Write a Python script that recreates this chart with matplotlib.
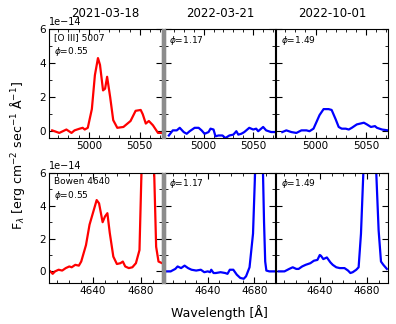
import numpy as np
import matplotlib.pyplot as plt
from matplotlib.ticker import AutoMinorLocator, MultipleLocator

dates = ["2021-03-18", "2022-03-21", "2022-10-01"]
phases = ["0.55", "1.17", "1.49"]

# [O III] 5007 region, flux in 1e-14
oiii_w1 = [4964, 4971, 4978, 4983, 4986, 4991, 4994, 4996, 4999, 5003, 5006, 5009, 5011,
           5014, 5016, 5018, 5021, 5024, 5028, 5034, 5041, 5046, 5051, 5053, 5056, 5059,
           5063, 5068, 5071]
oiii_f1 = [0.05, -0.1, 0.1, -0.1, 0.05, 0.15, 0.2, 0.1, 0.2, 1.3, 3.3, 4.3, 3.9,
           2.4, 2.5, 3.2, 2.0, 0.65, 0.2, 0.25, 0.6, 1.2, 1.25, 1.0, 0.45, 0.6,
           0.35, -0.1, -0.1]
oiii_w2 = [4965, 4969, 4973, 4976, 4980, 4983, 4986, 4991, 4995, 4998, 5001, 5005, 5007,
           5010, 5012, 5015, 5019, 5022, 5026, 5030, 5033, 5035, 5038, 5041, 5046, 5050,
           5053, 5055, 5060, 5063, 5068, 5072]
oiii_f2 = [-0.25, 0.05, 0.05, 0.2, -0.05, -0.15, 0.0, 0.2, 0.2, 0.05, -0.15, -0.05, 0.15,
           0.1, -0.3, -0.25, -0.25, -0.4, -0.25, -0.2, 0.0, -0.2, -0.15, -0.05, 0.2, 0.1,
           0.15, 0.0, 0.25, 0.05, -0.05, -0.05]
oiii_w3 = [4967, 4971, 4976, 4981, 4986, 4991, 4994, 4998, 5001, 5004, 5008, 5013, 5016,
           5020, 5023, 5026, 5030, 5033, 5036, 5041, 5048, 5051, 5055, 5059, 5061, 5066, 5072]
oiii_f3 = [-0.05, 0.05, -0.05, -0.1, 0.05, 0.05, 0.0, 0.15, 0.55, 0.95, 1.3, 1.3, 1.25,
           0.7, 0.25, 0.15, 0.15, 0.1, 0.2, 0.4, 0.5, 0.4, 0.25, 0.3, 0.2, 0.1, 0.05]

# Bowen 4640 region, flux in 1e-14
bow_w1 = [4604, 4606, 4608, 4611, 4614, 4617, 4620, 4622, 4625, 4628, 4630, 4634, 4637,
          4641, 4643, 4645, 4648, 4650, 4652, 4654, 4657, 4660, 4663, 4665, 4667, 4670,
          4673, 4676, 4679, 4681, 4683, 4686, 4689, 4691, 4693, 4695, 4698]
bow_f1 = [0.0, -0.15, 0.0, 0.1, 0.05, 0.2, 0.3, 0.25, 0.4, 0.35, 0.6, 1.6, 2.85,
          3.85, 4.35, 4.15, 3.0, 3.35, 3.55, 2.35, 0.9, 0.45, 0.5, 0.6, 0.3, 0.2,
          0.25, 0.5, 1.3, 7.0, 14.0, 16.0, 14.0, 7.0, 1.5, 0.6, 0.5]
bow_w2 = [4604, 4608, 4612, 4614, 4617, 4620, 4623, 4626, 4630, 4634, 4637, 4640, 4642,
          4643, 4645, 4647, 4651, 4655, 4657, 4659, 4662, 4665, 4668, 4671, 4673, 4676,
          4679, 4681, 4683, 4685, 4687, 4688.5, 4689.5, 4690.5, 4693, 4698]
bow_f2 = [0.0, 0.0, 0.15, 0.3, 0.2, 0.35, 0.2, 0.1, 0.05, 0.1, -0.05, 0.0, -0.05,
          0.1, -0.1, -0.1, -0.05, -0.1, -0.15, 0.1, 0.1, -0.2, -0.4, -0.45, -0.3, 0.25,
          2.3, 6.5, 10.0, 11.0, 8.0, 3.0, 0.6, 0.05, 0.0, 0.0]
bow_w3 = [4605, 4610, 4614, 4617, 4620, 4622, 4625, 4628, 4632, 4635, 4638, 4640, 4641,
          4643, 4646, 4649, 4651, 4654, 4657, 4661, 4664, 4666, 4668, 4671, 4673, 4675,
          4677, 4680, 4683, 4686, 4688, 4690, 4692, 4694, 4697]
bow_f3 = [0.0, 0.0, 0.15, 0.25, 0.15, 0.15, 0.3, 0.4, 0.5, 0.65, 0.7, 1.0, 0.95,
          0.75, 0.85, 0.55, 0.4, 0.25, 0.2, 0.2, 0.05, -0.1, -0.05, 0.1, 0.25, 2.3,
          6.0, 10.0, 11.0, 9.0, 6.0, 2.5, 0.6, 0.4, 0.15]

top = [(oiii_w1, oiii_f1), (oiii_w2, oiii_f2), (oiii_w3, oiii_f3)]
bot = [(bow_w1, bow_f1), (bow_w2, bow_f2), (bow_w3, bow_f3)]
colors = ["red", "blue", "blue"]

fig = plt.figure(figsize=(3.96, 3.24), dpi=100)
left, width = 0.124, 0.2853
rows = [(0.574, 0.336), (0.127, 0.339)]
gaps = [0.0, 0.007, 0.003]

for r in range(2):
    axes = []
    for c in range(3):
        x0 = left + c * width + gaps[c]
        if c == 0:
            ax = fig.add_axes([x0, rows[r][0], width, rows[r][1]])
        else:
            ax = fig.add_axes([x0, rows[r][0], width - gaps[c], rows[r][1]], sharey=axes[0])
        axes.append(ax)
        w, f = (top if r == 0 else bot)[c]
        ax.plot(w, np.array(f) * 1e-14, color=colors[c], lw=1.6)
        if r == 0:
            ax.set_xlim(4961, 5072)
            ax.xaxis.set_major_locator(MultipleLocator(50))
            ax.xaxis.set_minor_locator(MultipleLocator(10))
            ax.set_ylim(-0.4e-14, 6e-14)
            ax.set_title(dates[c], fontsize=8.5, y=1.0, pad=9)
        else:
            ax.set_xlim(4603, 4698)
            ax.xaxis.set_major_locator(MultipleLocator(40))
            ax.xaxis.set_minor_locator(MultipleLocator(10))
            ax.set_ylim(-0.7e-14, 6e-14)
        ax.yaxis.set_major_locator(MultipleLocator(2e-14))
        ax.yaxis.set_minor_locator(AutoMinorLocator(2))
        ax.tick_params(which="both", direction="in", top=True, right=True, labelsize=7.5,
                       pad=2)
        ax.tick_params(which="major", length=4)
        ax.tick_params(which="minor", length=2)
        ax.yaxis.get_offset_text().set_fontsize(7)
        if c > 0:
            ax.tick_params(labelleft=False)
        if c == 0:
            lab = ("[O III] 5007" if r == 0 else "Bowen 4640") + "\n$\\phi$=" + phases[c]
        else:
            lab = "$\\phi$=" + phases[c]
        ax.text(0.04, 0.96, lab, transform=ax.transAxes, fontsize=6.5, va="top",
                linespacing=1.3)
    # grey band between first and second column
    band = plt.Rectangle((left + width, rows[r][0]), gaps[1], rows[r][1],
                         transform=fig.transFigure, color="#8c8c8c", zorder=0)
    fig.patches.append(band)
    plt.setp(axes[1].get_yticklabels(), visible=False)
    plt.setp(axes[2].get_yticklabels(), visible=False)

fig.text(0.045, 0.52, "F$_\\lambda$ [erg cm$^{-2}$ sec$^{-1}$ $\\mathrm{\\AA}^{-1}$]",
         rotation=90, ha="center", va="center", fontsize=9)
fig.text(0.553, 0.035, "Wavelength [Å]", ha="center", va="center", fontsize=9)

fig.savefig("out.png", dpi=100)
